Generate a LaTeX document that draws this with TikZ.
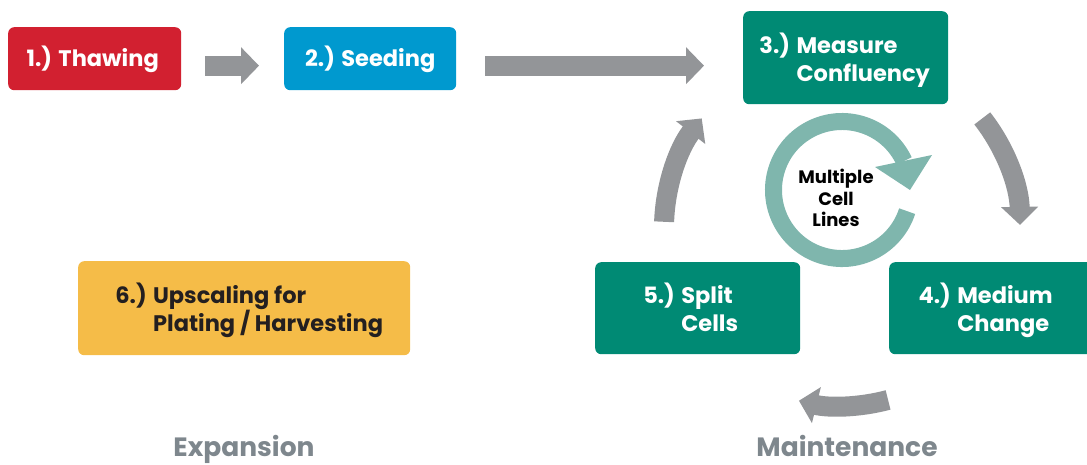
\documentclass[tikz,border=0pt]{standalone}
\usepackage{fontspec}
\setmainfont{Poppins}
\usetikzlibrary{arrows.meta}
\definecolor{cred}{RGB}{210,32,48}
\definecolor{cblue}{RGB}{0,153,207}
\definecolor{cteal}{RGB}{0,138,116}
\definecolor{cyellow}{RGB}{245,188,72}
\definecolor{cgray}{RGB}{147,149,152}
\definecolor{cring}{RGB}{127,182,173}
\definecolor{ctitle}{RGB}{126,135,141}
\definecolor{cdark}{RGB}{35,31,32}
\newcommand{\nrm}{\vphantom{(y}}
\tikzset{
  stepbox/.style={rounded corners=6pt, inner sep=0pt, anchor=north west},
  boxtext/.style={font=\fontsize{22.5}{28}\selectfont\bfseries, text=white, align=left, inner sep=0pt},
  bigarrow/.style={draw=cgray, line width=20pt, -{Triangle[length=18pt,width=36pt]}},
  title/.style={font=\fontsize{26.5}{30}\selectfont\bfseries, text=ctitle, anchor=base, inner sep=0pt},
}
\begin{document}
\begin{tikzpicture}[x=1pt,y=1pt]
\useasboundingbox (0,0) rectangle (1087,-464);
% boxes
\node[stepbox, fill=cred, minimum width=173pt, minimum height=63pt] (thaw) at (8,-27) {};
\node[stepbox, fill=cblue, minimum width=172pt, minimum height=63pt] (seed) at (284,-27) {};
\node[stepbox, fill=cteal, minimum width=205pt, minimum height=93pt] (meas) at (743,-11) {};
\node[stepbox, fill=cteal, minimum width=205pt, minimum height=92pt] (med) at (889,-262) {};
\node[stepbox, fill=cteal, minimum width=205pt, minimum height=92pt] (split) at (595,-262) {};
\node[stepbox, fill=cyellow, minimum width=332pt, minimum height=94pt] (ups) at (78,-261) {};
% texts
\node[boxtext] (thawt) at ([xshift=-2pt,yshift=-1pt]thaw.center) {\nrm 1.) Thawing};
\node[boxtext] (seedt) at ([yshift=-1pt]seed.center) {\nrm 2.) Seeding};
\node[boxtext] (meast) at ([xshift=-1pt,yshift=-2.5pt]meas.center) {\nrm 3.) Measure\\\nrm\hphantom{3.) }Confluency};
\node[boxtext] (medt) at ([xshift=-6pt,yshift=-2pt]med.center) {\nrm 4.) Medium\\\nrm\hphantom{4.) }Change};
\node[boxtext] (splitt) at ([xshift=-7pt,yshift=-2pt]split.center) {\nrm 5.) Split\\\nrm\hphantom{5.) }Cells};
\node[boxtext, text=cdark] (upst) at ([xshift=5pt,yshift=-2pt]ups.center) {\nrm 6.) Upscaling for\\\nrm\hphantom{6.) }Plating / Harvesting};
% straight arrows
\draw[bigarrow] ([xshift=24pt,yshift=-7pt]thaw.east) -- ([xshift=-25pt,yshift=-7pt]seed.west);
\draw[bigarrow] ([xshift=29pt,yshift=-7pt]seed.east) -- ([xshift=-39pt,yshift=-7pt]seed.east -| meas.west);
% cycle arrows
\coordinate (cyc) at (842,-228);
\draw[draw=cgray, line width=20pt, -{Triangle[length=18pt,width=36pt]}] ([shift={(178:178pt)}]cyc) arc[start angle=178, end angle=142, radius=178pt];
\draw[draw=cgray, line width=20pt, -{Triangle[length=18pt,width=36pt]}] ([shift={(38:178pt)}]cyc) arc[start angle=38, end angle=1, radius=178pt];
\draw[draw=cgray, line width=20pt, -{Triangle[length=18pt,width=36pt]}] ([shift={(-75:178pt)}]cyc) arc[start angle=-75, end angle=-104, radius=178pt];
% ring
\coordinate (rc) at (842,-190);
\draw[draw=cring, line width=17pt] ([shift={(-18:68.5pt)}]rc) arc[start angle=-18, end angle=-335, radius=68.5pt];
\fill[cring] (875,-167) -- (932,-155) -- (910,-190) -- cycle;
\node[font=\fontsize{18}{21.5}\selectfont\bfseries, align=center, text=black] (multi) at (836,-198) {Multiple\\Cell\\Lines};
% titles
\node[title] (exp) at (244,-456) {Expansion};
\node[title] (maint) at (847,-456) {Maintenance};
\end{tikzpicture}
\end{document}
